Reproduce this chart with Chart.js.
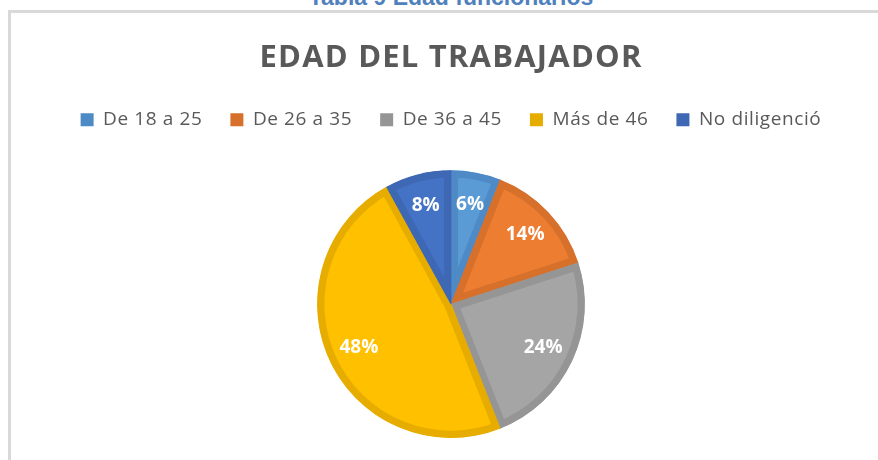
<!DOCTYPE html>
<html>
<head>
<meta charset="utf-8">
<script src="https://cdn.jsdelivr.net/npm/chart.js@4.4.1/dist/chart.umd.min.js"></script>
<style>
  html, body { margin: 0; padding: 0; background: #fff; overflow: hidden; }
  #caption {
    position: absolute; left: 0; width: 878px; top: -14px;
    text-align: center; font: bold 23px/23px "Liberation Sans", Arial, sans-serif;
    color: #4F81BD; padding-left: 24px; box-sizing: border-box;
  }
  #frame {
    position: absolute; left: 8px; top: 10px; width: 1000px; height: 1000px;
    border: 3px solid #D9D9D9;
  }
  #wrap { position: absolute; left: 0; top: 0; width: 878px; height: 460px; }
</style>
</head>
<body>
<div id="caption">Tabla 9 Edad funcionarios</div>
<div id="frame"></div>
<div id="wrap"><canvas id="ageChart"></canvas></div>
<script>
  // Data
  const labels = ['De 18 a 25', 'De 26 a 35', 'De 36 a 45', 'Más de 46', 'No diligenció'];
  const values = [6, 14, 24, 48, 8];
  const fillColors = ['#5B9BD5', '#ED7D31', '#A5A5A5', '#FFC000', '#4472C4'];
  const edgeColors = ['#4E8AC6', '#D6702B', '#959595', '#E6AC00', '#3E68B3'];

  // Percent labels inside each slice
  const sliceLabels = {
    id: 'sliceLabels',
    afterDatasetsDraw(chart) {
      const ctx = chart.ctx;
      const meta = chart.getDatasetMeta(0);
      ctx.save();
      ctx.letterSpacing = '0px';
      ctx.font = 'bold 19px "Open Sans"';
      ctx.fillStyle = '#FFFFFF';
      ctx.textAlign = 'center';
      ctx.textBaseline = 'middle';
      meta.data.forEach((arc, i) => {
        const p = arc.getProps(['x', 'y', 'startAngle', 'endAngle', 'outerRadius'], true);
        const a = (p.startAngle + p.endAngle) / 2;
        const r = p.outerRadius * 0.76;
        ctx.fillText(values[i] + '%', p.x + Math.cos(a) * r, p.y + Math.sin(a) * r);
      });
      ctx.restore();
    }
  };

  // Wider letters for legend and title, extra room under the legend
  const spacing = {
    id: 'spacing',
    beforeInit(chart) {
      const fit = chart.legend.fit;
      chart.legend.fit = function () {
        fit.bind(chart.legend)();
        this.height += 31;
      };
      const drawTitle = chart.titleBlock.draw;
      chart.titleBlock.draw = function () {
        const old = this.ctx.letterSpacing;
        this.ctx.letterSpacing = '1.2px';
        drawTitle.call(this);
        this.ctx.letterSpacing = old;
      };
    },
    beforeLayout(chart) { chart.ctx.letterSpacing = '0.6px'; },
    beforeDraw(chart) { chart.ctx.letterSpacing = '0.6px'; },
    afterDraw(chart) { chart.ctx.letterSpacing = '0px'; }
  };

  new Chart(document.getElementById('ageChart'), {
    type: 'pie',
    data: {
      labels: labels,
      datasets: [{
        data: values,
        backgroundColor: fillColors,
        borderColor: edgeColors,
        borderWidth: 7,
        borderAlign: 'inner',
        borderJoinStyle: 'miter',
        hoverOffset: 0
      }]
    },
    options: {
      responsive: true,
      maintainAspectRatio: false,
      animation: false,
      layout: { padding: { left: 24, bottom: 22 } },
      plugins: {
        title: {
          display: true,
          text: 'EDAD DEL TRABAJADOR',
          color: '#595959',
          font: { family: 'Open Sans', size: 31, weight: 'bold' },
          padding: { top: 40, bottom: 5 }
        },
        legend: {
          position: 'top',
          labels: {
            color: '#595959',
            font: { family: 'Open Sans', size: 19 },
            boxWidth: 13,
            boxHeight: 13,
            padding: 28,
            generateLabels(chart) {
              return labels.map((text, i) => ({
                text: text,
                fillStyle: edgeColors[i],
                strokeStyle: edgeColors[i],
                lineWidth: 0,
                fontColor: '#595959',
                index: i
              }));
            }
          }
        },
        tooltip: { enabled: false }
      }
    },
    plugins: [sliceLabels, spacing]
  });
</script>
</body>
</html>
